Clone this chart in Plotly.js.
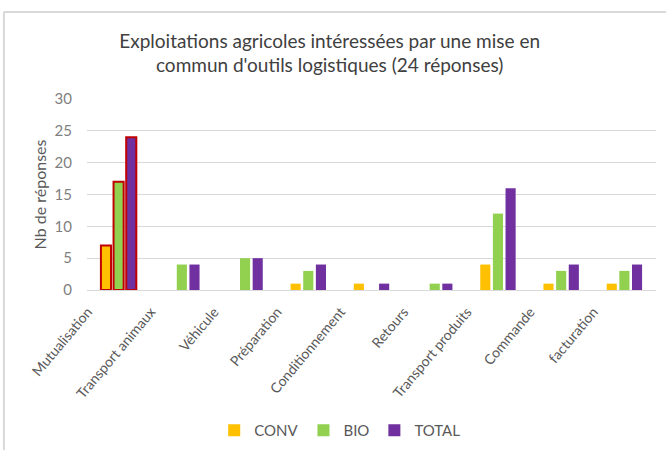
<!DOCTYPE html>
<html>
<head>
<meta charset="utf-8">
<script src="https://cdn.plot.ly/plotly-3.0.1.min.js"></script>
<style>html,body{margin:0;padding:0;background:#fff;}</style>
</head>
<body>
<div id="chart" style="width:666px;height:450px;"></div>
<script>
const categories = ["Mutualisation","Transport animaux","Véhicule","Préparation","Conditionnement","Retours","Transport produits","Commande","facturation"];
const conv  = [7, 0, 0, 1, 1, 0, 4, 1, 1];
const bio   = [17, 4, 5, 3, 0, 1, 12, 3, 3];
const total = [24, 4, 5, 4, 1, 1, 16, 4, 4];
const seriesNames = ["CONV", "BIO", "TOTAL"];
const yTicks = [0, 5, 10, 15, 20, 25, 30];
const highlightIndex = 0; // Mutualisation is outlined in red

const colors = ["#FFC000", "#92D050", "#7030A0"];
const font = "Lato, 'Open Sans', sans-serif";
const series = [conv, bio, total];

const traces = series.map((vals, k) => ({
  type: "bar",
  name: seriesNames[k],
  x: categories,
  y: vals,
  offsetgroup: String(k),
  marker: { color: colors[k], line: { color: "#ffffff", width: 0 } },
  hoverinfo: "x+y+name"
}));

// red-outlined overlay for the highlighted category (same offset group, no legend)
series.forEach((vals, k) => {
  traces.push({
    type: "bar",
    name: seriesNames[k],
    x: [categories[highlightIndex]],
    y: [vals[highlightIndex]],
    offsetgroup: String(k),
    showlegend: false,
    marker: { color: colors[k], line: { color: "#C00000", width: 2 } },
    hoverinfo: "x+y+name"
  });
});

const layout = {
  width: 666, height: 450,
  margin: { l: 87, r: 10, t: 99, b: 160, autoexpand: false },
  paper_bgcolor: "#ffffff",
  plot_bgcolor: "#ffffff",
  font: { family: font, color: "#595959", size: 13 },
  title: {
    text: "Exploitations agricoles intéressées par une mise en<br>commun d'outils logistiques (24 réponses)",
    font: { family: font, size: 19, color: "#404040" },
    x: 0.495, xanchor: "center", y: 0.894, yanchor: "top"
  },
  barmode: "overlay",
  bargap: 0.4,
  bargroupgap: 0.2,
  xaxis: {
    automargin: false,
    tickangle: -50,
    tickfont: { size: 14, color: "#595959" },
    showgrid: false,
    showline: false,
    ticks: "",
    ticklabelshift: -31,
    ticklabelstandoff: 10
  },
  yaxis: {
    automargin: false,
    range: [0, 30],
    tickvals: yTicks,
    ticktext: yTicks.map(String),
    tickfont: { size: 15, color: "#7f7f7f" },
    gridcolor: "#d9d9d9",
    gridwidth: 1,
    zeroline: true,
    zerolinecolor: "#d9d9d9",
    showline: false,
    ticks: "",
    ticklabelstandoff: 14,
    title: { text: "Nb de réponses", font: { size: 16, color: "#595959" }, standoff: 3 }
  },
  legend: {
    orientation: "h",
    x: 0.445, xanchor: "center",
    y: -0.735, yanchor: "middle",
    font: { size: 15, color: "#595959" },
    itemwidth: 30,
    traceorder: "normal"
  },
  shapes: [
    { type: "line", xref: "paper", yref: "paper", x0: -0.146, x1: -0.146, y0: 1.455, y1: -1.2, line: { color: "#d9d9d9", width: 2 } },
    { type: "line", xref: "paper", yref: "paper", x0: -0.146, x1: 1.2, y0: 1.455, y1: 1.455, line: { color: "#d9d9d9", width: 2 } }
  ],
  showlegend: true
};

Plotly.newPlot("chart", traces, layout, { displayModeBar: false, responsive: false });
</script>
</body>
</html>
